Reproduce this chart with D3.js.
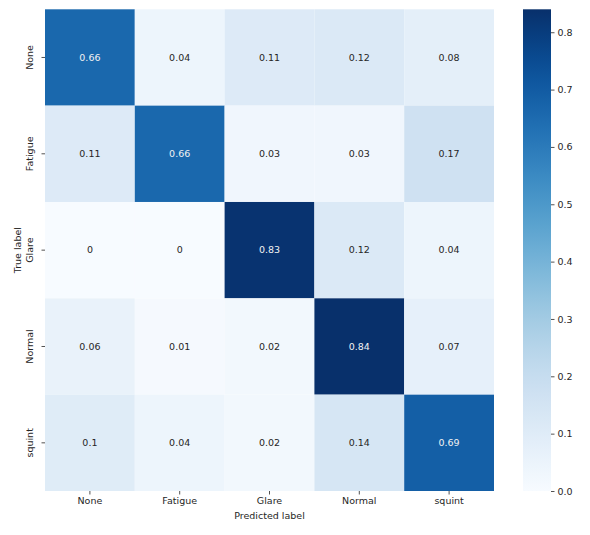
<!DOCTYPE html>
<html>
<head>
<meta charset="utf-8">
<script src="https://cdn.jsdelivr.net/npm/d3@7"></script>
<style>
  body { margin: 0; background: #fff; }
  text { font-family: "DejaVu Sans", sans-serif; fill: #262626; }
</style>
</head>
<body>
<div id="chart"></div>
<script>
// class labels, rows = true label, columns = predicted label
const labels = ["None", "Fatigue", "Glare", "Normal", "squint"];
const rowNone    = [0.66, 0.04, 0.11, 0.12, 0.08];
const rowFatigue = [0.11, 0.66, 0.03, 0.03, 0.17];
const rowGlare   = [0, 0, 0.83, 0.12, 0.04];
const rowNormal  = [0.06, 0.01, 0.02, 0.84, 0.07];
const rowSquint  = [0.1, 0.04, 0.02, 0.14, 0.69];
const matrix = [rowNone, rowFatigue, rowGlare, rowNormal, rowSquint];
const colorTicks = [0, 0.1, 0.2, 0.3, 0.4, 0.5, 0.6, 0.7, 0.8];

const width = 590, height = 535;
const margin = { top: 9.3, left: 45, right: 96, bottom: 44 };
const plotW = width - margin.left - margin.right;  // ~449
const plotH = height - margin.top - margin.bottom;  // ~482

const svg = d3.select("#chart").append("svg")
  .attr("width", width)
  .attr("height", height);

const vmax = d3.max(matrix.flat());
const color = d3.scaleSequential(d3.interpolateBlues).domain([0, vmax]);

const x = d3.scaleBand().domain(labels).range([0, plotW]);
const y = d3.scaleBand().domain(labels).range([0, plotH]);

const chart = svg.append("g")
  .attr("transform", `translate(${margin.left},${margin.top})`);

const cells = [];
matrix.forEach((row, i) => row.forEach((v, j) => cells.push({ r: labels[i], c: labels[j], v })));

chart.selectAll(".cell")
  .data(cells)
  .join("rect")
  .attr("class", "cell")
  .attr("x", d => x(d.c))
  .attr("y", d => y(d.r))
  .attr("width", x.bandwidth())
  .attr("height", y.bandwidth())
  .attr("fill", d => color(d.v));

chart.selectAll(".annot")
  .data(cells)
  .join("text")
  .attr("class", "annot")
  .attr("x", d => x(d.c) + x.bandwidth() / 2)
  .attr("y", d => y(d.r) + y.bandwidth() / 2)
  .attr("text-anchor", "middle")
  .attr("dy", "0.35em")
  .style("font-size", "9.5px")
  .style("fill", d => d.v > vmax * 0.6 ? "#f2f2f2" : "#262626")
  .text(d => d3.format("~g")(d.v));

// axes
const xAxis = chart.append("g")
  .attr("transform", `translate(0,${plotH})`)
  .call(d3.axisBottom(x).tickSize(3.5).tickPadding(3));
const yAxis = chart.append("g")
  .call(d3.axisLeft(y).tickSize(3.5).tickPadding(3));

[xAxis, yAxis].forEach(a => {
  a.select(".domain").remove();
  a.selectAll(".tick line").attr("stroke", "#262626").attr("stroke-width", 0.8);
  a.selectAll(".tick text").style("font-size", "9.5px").attr("fill", "#262626");
});

yAxis.selectAll(".tick text")
  .attr("text-anchor", "middle")
  .attr("transform", "rotate(-90)")
  .attr("x", 0)
  .attr("y", -12)
  .attr("dy", "0");

chart.append("text")
  .attr("x", plotW / 2)
  .attr("y", plotH + 28)
  .attr("text-anchor", "middle")
  .style("font-size", "9.5px")
  .text("Predicted label");

chart.append("text")
  .attr("transform", `translate(-24,${plotH / 2}) rotate(-90)`)
  .attr("text-anchor", "middle")
  .style("font-size", "9.5px")
  .text("True label");

// colorbar
const cbX = 523, cbW = 28;
const cbScale = d3.scaleLinear().domain([0, vmax]).range([margin.top + plotH, margin.top]);

const defs = svg.append("defs");
const grad = defs.append("linearGradient")
  .attr("id", "cb-grad")
  .attr("x1", 0).attr("y1", 1).attr("x2", 0).attr("y2", 0);
grad.selectAll("stop")
  .data(d3.range(0, 1.0001, 0.05))
  .join("stop")
  .attr("offset", d => d)
  .attr("stop-color", d => color(d * vmax));

svg.append("rect")
  .attr("x", cbX)
  .attr("y", margin.top)
  .attr("width", cbW)
  .attr("height", plotH)
  .attr("fill", "url(#cb-grad)");

const cbAxis = svg.append("g")
  .attr("transform", `translate(${cbX + cbW},0)`)
  .call(d3.axisRight(cbScale).tickValues(colorTicks).tickFormat(d3.format(".1f")).tickSize(3.5).tickPadding(3));
cbAxis.select(".domain").remove();
cbAxis.selectAll(".tick line").attr("stroke", "#262626").attr("stroke-width", 0.8);
cbAxis.selectAll(".tick text").style("font-size", "9.5px").attr("fill", "#262626");
</script>
</body>
</html>
